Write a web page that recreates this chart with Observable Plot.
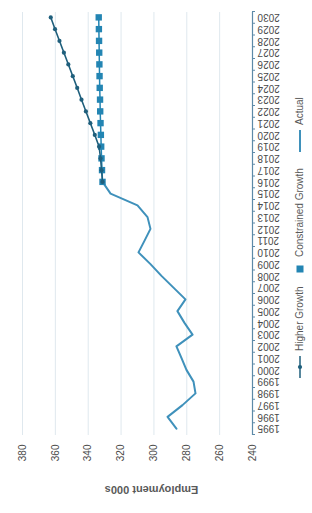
<!DOCTYPE html>
<html>
<head>
<meta charset="utf-8">
<script src="https://cdn.jsdelivr.net/npm/d3@7"></script>
<script src="https://cdn.jsdelivr.net/npm/@observablehq/plot@0.6"></script>
<style>
  html, body { margin: 0; padding: 0; background: #fff; }
  body { width: 312px; height: 513px; overflow: hidden; position: relative; }
  #wrap {
    position: absolute; left: 0; top: 0;
    width: 513px; height: 312px;
    transform-origin: 0 0;
    transform: translate(0px, 513px) rotate(-90deg);
    font-family: "Liberation Sans", Arial, sans-serif;
    color: #595959;
  }
  #legend {
    position: relative; height: 22px; font-size: 10px; color: #595959;
  }
  .item { position: absolute; top: 4px; display: flex; align-items: center; white-space: nowrap; }
  .item svg { margin-right: 5px; }
</style>
</head>
<body>
<div id="wrap">
  <div id="chart"></div>
  <div id="legend"></div>
</div>
<script>
// ---- data ----
const yearTicks = [1995,1996,1997,1998,1999,2000,2001,2002,2003,2004,2005,2006,2007,2008,2009,2010,2011,2012,2013,2014,2015,2016,2017,2018,2019,2020,2021,2022,2023,2024,2025,2026,2027,2028,2029,2030];
const valueTicks = [240,260,280,300,320,340,360,380];

const actualYears  = [1995,1996,1997,1998,1999,2000,2001,2002,2003,2004,2005,2006,2007,2008,2009,2010,2011,2012,2013,2014,2015,2016];
const actualValues = [286.3,291.7,282.6,274.7,275.9,280.2,283.2,286.3,276.5,281.4,285.7,280.8,288.1,295.4,302.1,309.4,305.7,302.1,303.9,310.0,326.4,331.3];

const projYears         = [2016,2017,2018,2019,2020,2021,2022,2023,2024,2025,2026,2027,2028,2029,2030];
const constrainedValues = [331.3,331.6,331.9,332.1,332.3,332.5,332.7,332.8,333.0,333.1,333.2,333.3,333.4,333.5,333.6];
const higherValues      = [331.3,331.9,332.5,333.4,336.0,338.7,341.4,344.1,346.7,349.4,352.1,354.8,357.5,360.2,362.8];

const seriesNames = ["Higher Growth", "Constrained Growth", "Actual"];
const yLabel = "Employment 000s";

// ---- build tables ----
const actual = actualYears.map((y, i) => ({year: y, value: actualValues[i]}));
const constrained = projYears.map((y, i) => ({year: y, value: constrainedValues[i]}));
const higher = projYears.map((y, i) => ({year: y, value: higherValues[i]}));
const between = yearTicks.map(y => y - 0.5).concat([yearTicks[yearTicks.length - 1] + 0.5]);

const cActual = "#3f91bb";
const cConstr = "#2385b3";
const cHigher = "#1f5f7c";
const cAxis = "#5d8aa8";
const cGrid = "#dfe8ee";

const chart = Plot.plot({
  width: 513,
  height: 290,
  marginLeft: 78,
  marginRight: 12,
  marginTop: 22,
  marginBottom: 38,
  style: {fontFamily: "Liberation Sans, Arial, sans-serif", fontSize: "10px", color: "#4a4a4a", background: "#fff"},
  x: {type: "linear", domain: [1994.5, 2030.5], axis: null},
  y: {domain: [240, 380], axis: null},
  marks: [
    Plot.gridY(valueTicks, {stroke: cGrid, strokeOpacity: 1}),
    Plot.ruleY([240], {stroke: cAxis, strokeWidth: 1.2}),
    Plot.axisY(valueTicks, {tickSize: 0, tickPadding: 10, fontSize: 10, label: null}),
    Plot.axisX(yearTicks, {tickSize: 0, tickPadding: 5, tickRotate: -90, tickFormat: d => String(d), fontSize: 10, label: null}),
    Plot.axisX(between, {tickSize: 3, stroke: cAxis, tickFormat: () => "", label: null}),
    Plot.text([yLabel], {frameAnchor: "left", textAnchor: "middle", rotate: -90, dx: -55, dy: 14, fontSize: 11, fill: "#595959", fontWeight: "bold"}),
    Plot.line(actual, {x: "year", y: "value", stroke: cActual, strokeWidth: 2}),
    Plot.line(constrained, {x: "year", y: "value", stroke: cConstr, strokeWidth: 1.5}),
    Plot.dot(constrained, {x: "year", y: "value", symbol: "square", r: 3.6, fill: cConstr, stroke: "none"}),
    Plot.line(higher, {x: "year", y: "value", stroke: cHigher, strokeWidth: 1.5}),
    Plot.dot(higher, {x: "year", y: "value", r: 2.1, fill: cHigher, stroke: "none"})
  ]
});
document.getElementById("chart").appendChild(chart);

// ---- legend ----
const legend = document.getElementById("legend");
const swatches = [
  {left: 135, svg: `<svg width="22" height="10"><line x1="0" y1="5" x2="22" y2="5" stroke="${cHigher}" stroke-width="1.5"/><circle cx="11" cy="5" r="2.1" fill="${cHigher}"/></svg>`},
  {left: 237, svg: `<svg width="14" height="10"><rect x="3.5" y="1.5" width="7" height="7" fill="${cConstr}"/></svg>`},
  {left: 361, svg: `<svg width="22" height="10"><line x1="0" y1="5" x2="22" y2="5" stroke="${cActual}" stroke-width="2"/></svg>`}
];
seriesNames.forEach((name, i) => {
  const d = document.createElement("div");
  d.className = "item";
  d.style.left = swatches[i].left + "px";
  d.innerHTML = swatches[i].svg + `<span>${name}</span>`;
  legend.appendChild(d);
});
</script>
</body>
</html>
